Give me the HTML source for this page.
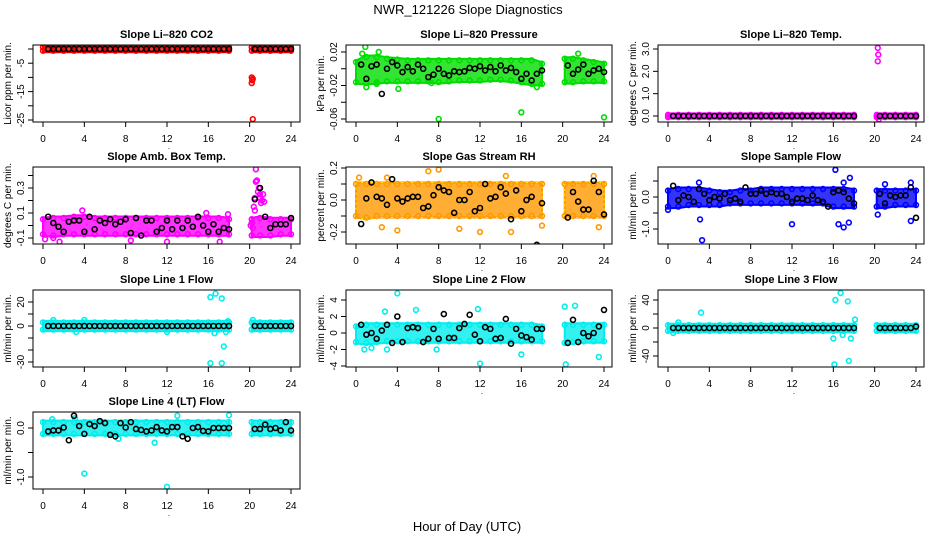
<!DOCTYPE html>
<html><head><meta charset="utf-8"><title>NWR_121226 Slope Diagnostics</title>
<style>
html,body{margin:0;padding:0;background:#fff;}
svg{display:block;font-family:"Liberation Sans",sans-serif;}
</style></head>
<body>
<svg id="chart" width="936" height="540" viewBox="0 0 936 540" xmlns="http://www.w3.org/2000/svg">
<text x="468" y="14" text-anchor="middle" font-size="13">NWR_121226  Slope Diagnostics</text>
<text x="467" y="531" text-anchor="middle" font-size="13">Hour of Day (UTC)</text>
</svg>
<script>
// ---- shared x grids (hours) ----
const bandHours = [0,1,2,3,4,5,6,7,8,9,10,11,12,13,14,15,16,17,18, null, 20.2,21,22,23,24];
const meanHours = [0.5,1,1.5,2,2.5,3,3.5,4,4.5,5,5.5,6,6.5,7,7.5,8,8.5,9,9.5,10,10.5,11,11.5,12,12.5,13,13.5,14,14.5,15,15.5,16,16.5,17,17.5,18,20.5,21,21.5,22,22.5,23,23.5,24];
const xTicks = [0,4,8,12,16,20,24];

// ---- panel 1: CO2 ----
const co2Lo = [-0.6,-0.6,-0.6,-0.6,-0.6,-0.6,-0.6,-0.6,-0.6,-0.6,-0.6,-0.6,-0.6,-0.6,-0.6,-0.6,-0.6,-0.6,-0.6,null,-0.6,-0.6,-0.6,-0.6,-0.6];
const co2Hi = [0.6,0.6,0.6,0.6,0.6,0.6,0.6,0.6,0.6,0.6,0.6,0.6,0.6,0.6,0.6,0.6,0.6,0.6,0.6,null,0.6,0.6,0.6,0.6,0.6];
const co2Mean = [0,0,0,0,0,0,0,0,0,0,0,0,0,0,0,0,0,0,0,0,0,0,0,0,0,0,0,0,0,0,0,0,0,0,0,0,0,0,0,0,0,0,0,0];
const co2OutX = [20.2,20.25,20.2,20.3,20.3];
const co2OutY = [-10,-11,-12,-24.7,-10.5];
const co2Ticks = [0,-5,-10,-15,-20,-25];
const co2Labels = ["","-5","","-15","","-25"];

// ---- panel 2: Pressure ----
const presLo = [-0.016,-0.017,-0.016,-0.015,-0.015,-0.015,-0.015,-0.015,-0.016,-0.015,-0.014,-0.014,-0.014,-0.013,-0.013,-0.014,-0.016,-0.018,-0.018,null,-0.016,-0.016,-0.015,-0.015,-0.015];
const presHi = [0.008,0.014,0.014,0.012,0.011,0.010,0.010,0.010,0.010,0.010,0.010,0.010,0.010,0.010,0.010,0.010,0.010,0.010,0.006,null,0.012,0.012,0.010,0.008,0.006];
const presMean = [0.005,-0.012,0.003,0.005,-0.03,0,0.008,0.004,-0.004,0.002,-0.003,0.005,0,-0.01,-0.007,0.0,-0.006,-0.008,-0.003,-0.004,-0.003,0.001,0.0,0.003,-0.002,0.002,-0.003,0.004,-0.002,0.001,-0.004,-0.012,-0.006,-0.014,-0.006,-0.002,0.004,-0.006,-0.001,0.005,-0.006,-0.002,0.0,-0.004];
const presOutX = [0.9,1.0,2.2,4.1,8,16,24,0.6,17.5,21.5,2.0,7.3];
const presOutY = [0.026,-0.022,0.02,-0.024,-0.06,-0.052,-0.058,0.018,-0.022,0.018,-0.018,-0.017];
const presTicks = [0.02,0,-0.02,-0.04,-0.06];
const presLabels = ["0.02","","-0.02","","-0.06"];

// ---- panel 3: Li-820 Temp ----
const tempLo = [-0.05,-0.05,-0.05,-0.05,-0.05,-0.05,-0.05,-0.05,-0.05,-0.05,-0.05,-0.05,-0.05,-0.05,-0.05,-0.05,-0.05,-0.05,-0.05,null,-0.05,-0.05,-0.05,-0.05,-0.05];
const tempHi = [0.05,0.05,0.05,0.05,0.05,0.05,0.05,0.05,0.05,0.05,0.05,0.05,0.05,0.05,0.05,0.05,0.05,0.05,0.05,null,0.05,0.05,0.05,0.05,0.05];
const tempMean = [0,0,0,0,0,0,0,0,0,0,0,0,0,0,0,0,0,0,0,0,0,0,0,0,0,0,0,0,0,0,0,0,0,0,0,0,0,0,0,0,0,0,0,0];
const tempOutX = [20.3,20.35,20.3,20.4,20.3];
const tempOutY = [3.05,2.75,2.45,-0.15,-0.05];
const tempTicks = [3,2,1,0];
const tempLabels = ["3.0","2.0","1.0","0.0"];

// ---- panel 4: Amb Box Temp ----
const ambLo = [-0.07,-0.08,-0.07,-0.07,-0.07,-0.07,-0.07,-0.07,-0.07,-0.07,-0.07,-0.07,-0.07,-0.07,-0.07,-0.07,-0.07,-0.07,-0.07,null,-0.08,-0.08,-0.08,-0.07,-0.07];
const ambHi = [0.05,0.06,0.06,0.07,0.07,0.06,0.06,0.06,0.06,0.06,0.06,0.06,0.06,0.06,0.06,0.06,0.06,0.06,0.05,null,0.05,0.06,0.05,0.05,0.05];
const ambMean = [0.07,0.02,-0.01,-0.05,0.03,0.04,0.04,-0.05,0.07,-0.03,0.04,0.02,0.05,0.01,0.03,0.05,-0.06,0.06,-0.08,0.04,0.04,-0.05,-0.02,0.04,-0.03,0.04,-0.02,0.04,-0.01,0.07,0.0,-0.05,0.01,-0.05,-0.02,-0.03,0.21,0.3,0.07,-0.02,0.01,0.01,0.01,0.06];
const ambOutX = [20.1,20.2,20.4,20.5,20.6,20.7,20.6,20.9,21.0,21.2,21.3,20.5,21.1,21.4,20.3,1.6,12,17.1,3.8,0.2,1.0,8.5,15.8,17.9,20.8,21.0];
const ambOutY = [0.0,0.02,0.15,0.22,0.35,0.36,0.45,0.3,0.25,0.2,0.25,0.12,0.18,0.19,-0.02,-0.13,-0.13,-0.13,0.12,-0.11,-0.1,-0.12,0.1,0.09,0.27,0.22];
const ambTicks = [0.4,0.3,0.2,0.1,0,-0.1];
const ambLabels = ["","0.3","","0.1","","-0.1"];

// ---- panel 5: Gas Stream RH ----
const rhLo = [-0.1,-0.11,-0.1,-0.1,-0.1,-0.1,-0.1,-0.1,-0.1,-0.1,-0.1,-0.1,-0.1,-0.1,-0.1,-0.1,-0.1,-0.1,-0.1,null,-0.1,-0.1,-0.1,-0.1,-0.1];
const rhHi = [0.1,0.1,0.1,0.1,0.1,0.1,0.1,0.1,0.1,0.1,0.1,0.1,0.1,0.1,0.1,0.1,0.1,0.1,0.1,null,0.1,0.1,0.1,0.1,0.1];
const rhMean = [-0.15,0.01,0.11,0.02,0.01,-0.03,0.13,0.01,-0.01,0.01,0.02,0.02,-0.05,-0.04,0.03,0.08,0.06,0.05,-0.08,0.0,0.0,0.05,-0.07,-0.05,0.1,0.01,0.02,0.08,0.04,-0.12,0.06,-0.07,0.0,0.02,-0.28,-0.02,-0.11,0.05,-0.01,-0.06,-0.06,0.12,0.05,-0.09];
const rhOutX = [0.3,3,7,8,14.5,23,4,12,15,2.5,23.5,10,18];
const rhOutY = [0.14,0.14,0.18,0.19,0.15,0.15,-0.19,-0.2,-0.2,-0.17,-0.17,-0.18,-0.16];
const rhTicks = [0.2,0.1,0,-0.1,-0.2];
const rhLabels = ["0.2","","0.0","","-0.2"];

// ---- panel 6: Sample Flow ----
const sfLo = [-0.3,-0.3,-0.25,-0.25,-0.25,-0.25,-0.2,-0.2,-0.2,-0.2,-0.2,-0.2,-0.2,-0.2,-0.2,-0.2,-0.3,-0.3,-0.3,null,-0.3,-0.3,-0.25,-0.25,-0.25];
const sfHi = [0.2,0.25,0.25,0.25,0.2,0.15,0.15,0.2,0.2,0.25,0.25,0.25,0.25,0.25,0.25,0.25,0.25,0.25,0.2,null,0.2,0.2,0.2,0.2,0.2];
const sfMean = [0.35,-0.1,0.05,0.0,-0.15,0.25,0.1,-0.1,0.0,-0.05,0.1,-0.1,-0.05,-0.15,0.3,0.1,0.1,0.2,0.1,0.15,0.1,0.1,0.0,-0.15,-0.05,-0.05,-0.1,0.05,-0.1,-0.15,-0.3,0.15,0.2,0.15,-0.05,-0.2,0.1,-0.2,0.05,0.0,0.05,0.05,0.3,-0.65];
const sfOutX = [3.1,3.3,12,16.2,16.5,17,17.5,17.6,17,23.5,23.5,0,21,3,20.3];
const sfOutY = [-0.7,-1.35,-0.85,0.85,-0.85,-0.95,-0.8,0.6,0.45,-0.75,0.45,-0.4,0.4,0.45,-0.55];
const sfTicks = [0.5,0,-0.5,-1];
const sfLabels = ["","0.0","","-1.0"];

// ---- panel 7: Line 1 Flow ----
const l1Lo = [-3,-3,-3,-3,-3,-3,-3,-3,-3,-3,-3,-3,-3,-3,-3,-3,-3,-3,-3,null,-3,-3,-3,-3,-3];
const l1Hi = [3,3,3,3,3,3,3,3,3,3,3,3,3,3,3,3,3,3,3,null,3,3,3,3,3];
const l1Mean = [0,0,0,0,0,0,0,0,0,0,0,0,0,0,0,0,0,0,0,0,0,0,0,0,0,0,0,0,0,0,0,0,0,0,0,0,0,0,0,0,0,0,0,0];
const l1OutX = [16.2,16.7,17.3,16.2,17.3,17.5,17.7,16.6,1,4,3.2,20.3,12,17.9];
const l1OutY = [24,27,23,-31,-31,-17,-5,-6,5,5,-5,5,-5,4];
const l1Ticks = [20,10,0,-10,-20,-30];
const l1Labels = ["20","","0","","","-30"];

// ---- panel 8: Line 2 Flow ----
const l2Lo = [-1.1,-1.2,-1.1,-1.0,-1.0,-1.0,-1.0,-1.0,-1.0,-1.0,-1.0,-1.0,-1.0,-1.0,-1.0,-1.0,-1.0,-1.0,-1.0,null,-1.2,-1.1,-1.0,-1.0,-1.0];
const l2Hi = [0.8,1.0,1.0,1.0,1.0,1.0,1.0,1.0,1.0,1.0,1.0,1.0,1.0,1.0,1.0,1.0,1.0,1.0,0.8,null,1.0,1.0,1.0,1.0,1.0];
const l2Mean = [1.0,-0.2,0.0,-0.7,0.3,1.0,-1.2,2.0,-1.1,0.6,0.7,0.6,-1.1,-0.7,0.5,-0.7,2.3,-0.6,-0.6,0.6,1.1,2.2,-0.2,-1.0,0.7,0.5,-0.7,-0.6,1.7,-1.3,0.5,-0.3,-0.5,-0.8,0.5,0.5,-1.2,1.6,-1.1,0.0,-0.4,0.0,0.8,2.8];
const l2OutX = [4,12,20.3,16,23.5,2.8,5.8,11.8,20.2,21.2,3,7.8,0.8,1.5];
const l2OutY = [4.8,-3.7,-3.8,-2.6,-2.9,2.6,2.8,2.9,3.2,3.3,-2,-2,-2,-1.8];
const l2Ticks = [4,2,0,-2,-4];
const l2Labels = ["4","2","0","-2","-4"];

// ---- panel 9: Line 3 Flow ----
const l3Lo = [-4,-4,-4,-4,-4,-4,-4,-4,-4,-4,-4,-4,-4,-4,-4,-4,-4,-4,-4,null,-4,-4,-4,-4,-4];
const l3Hi = [4,4,4,4,4,4,4,4,4,4,4,4,4,4,4,4,4,4,4,null,4,4,4,4,4];
const l3Mean = [0,0,0,0,0,0,0,0,0,0,0,0,0,0,0,0,0,0,0,0,0,0,0,0,0,0,0,0,0,0,0,0,0,0,0,0,0,0,0,0,0,0,0,2];
const l3OutX = [16.2,16.7,17.4,16.1,17.5,17.7,16.9,16,3.2,18.1,1,0.5];
const l3OutY = [40,50,38,-52,-47,-15,-10,-15,22,12,8,-7];
const l3Ticks = [40,20,0,-20,-40];
const l3Labels = ["40","","0","","-40"];

// ---- panel 10: Line 4 (LT) Flow ----
const l4Lo = [-0.12,-0.12,-0.12,-0.12,-0.12,-0.12,-0.12,-0.12,-0.12,-0.12,-0.12,-0.12,-0.12,-0.12,-0.12,-0.12,-0.12,-0.12,-0.12,null,-0.12,-0.12,-0.12,-0.12,-0.12];
const l4Hi = [0.12,0.12,0.12,0.12,0.12,0.12,0.12,0.12,0.12,0.12,0.12,0.12,0.12,0.12,0.12,0.12,0.12,0.12,0.12,null,0.12,0.12,0.12,0.12,0.12];
const l4Mean = [-0.07,-0.05,-0.05,0.01,-0.25,0.25,0.04,-0.12,0.08,0.04,0.14,0.1,-0.14,-0.17,0.1,0.01,0.12,-0.02,-0.04,-0.07,-0.05,0.02,-0.05,-0.07,0.02,0.02,-0.17,-0.22,0.0,0.02,-0.06,-0.07,0.0,0.0,0.0,0.0,-0.02,-0.02,0.07,-0.02,0.0,-0.05,0.12,-0.05];
const l4OutX = [4,12,0.9,3.1,13,18,10.8,7.3];
const l4OutY = [-0.93,-1.2,0.18,0.2,0.25,0.26,-0.3,-0.22];
const l4Ticks = [0,-0.5,-1];
const l4Labels = ["0.0","","-1.0"];

// ---- layout (not data) ----
const colLeft = [33,346,658], colW = [267,266,266];
const rowTop = [45,167,290,412], boxH = 77;
const panels = [
 {name:"co2",title:"Slope Li\u2013820 CO2",ylab:"Licor ppm per min.",r:0,c:0,v1:0,p1:49,v2:-25,p2:120,lo:co2Lo,hi:co2Hi,mean:co2Mean,ox:co2OutX,oy:co2OutY,ticks:co2Ticks,labels:co2Labels,color:"#ff0000"},
 {name:"pressure",title:"Slope Li\u2013820 Pressure",ylab:"kPa per min.",r:0,c:1,v1:0.02,p1:52,v2:-0.06,p2:119,lo:presLo,hi:presHi,mean:presMean,ox:presOutX,oy:presOutY,ticks:presTicks,labels:presLabels,color:"#00dd00"},
 {name:"li820-temp",title:"Slope Li\u2013820 Temp.",ylab:"degrees C per min.",r:0,c:2,v1:3,p1:49,v2:0,p2:116,lo:tempLo,hi:tempHi,mean:tempMean,ox:tempOutX,oy:tempOutY,ticks:tempTicks,labels:tempLabels,color:"#ff00ff"},
 {name:"amb-box-temp",title:"Slope Amb. Box Temp.",ylab:"degrees C per min.",r:1,c:0,v1:0.3,p1:188,v2:-0.1,p2:238,lo:ambLo,hi:ambHi,mean:ambMean,ox:ambOutX,oy:ambOutY,ticks:ambTicks,labels:ambLabels,color:"#ff00ff"},
 {name:"gas-stream-rh",title:"Slope Gas Stream RH",ylab:"percent per min.",r:1,c:1,v1:0.2,p1:168,v2:-0.2,p2:232,lo:rhLo,hi:rhHi,mean:rhMean,ox:rhOutX,oy:rhOutY,ticks:rhTicks,labels:rhLabels,color:"#ff9900",color2:"#ffee00"},
 {name:"sample-flow",title:"Slope Sample Flow",ylab:"ml/min per min.",r:1,c:2,v1:0,p1:197,v2:-1,p2:229,lo:sfLo,hi:sfHi,mean:sfMean,ox:sfOutX,oy:sfOutY,ticks:sfTicks,labels:sfLabels,color:"#0000ff"},
 {name:"line1-flow",title:"Slope Line 1 Flow",ylab:"ml/min per min.",r:2,c:0,v1:20,p1:302,v2:-30,p2:362,lo:l1Lo,hi:l1Hi,mean:l1Mean,ox:l1OutX,oy:l1OutY,ticks:l1Ticks,labels:l1Labels,color:"#00eeee"},
 {name:"line2-flow",title:"Slope Line 2 Flow",ylab:"ml/min per min.",r:2,c:1,v1:4,p1:300,v2:-4,p2:366,lo:l2Lo,hi:l2Hi,mean:l2Mean,ox:l2OutX,oy:l2OutY,ticks:l2Ticks,labels:l2Labels,color:"#00eeee"},
 {name:"line3-flow",title:"Slope Line 3 Flow",ylab:"ml/min per min.",r:2,c:2,v1:40,p1:300,v2:-40,p2:356,lo:l3Lo,hi:l3Hi,mean:l3Mean,ox:l3OutX,oy:l3OutY,ticks:l3Ticks,labels:l3Labels,color:"#00eeee"},
 {name:"line4-flow",title:"Slope Line 4 (LT) Flow",ylab:"ml/min per min.",r:3,c:0,v1:0,p1:428,v2:-1,p2:477,lo:l4Lo,hi:l4Hi,mean:l4Mean,ox:l4OutX,oy:l4OutY,ticks:l4Ticks,labels:l4Labels,color:"#00eeee"}
];

const NS = "http://www.w3.org/2000/svg";
const svg = document.getElementById("chart");
function mk(tag, attrs, parent){ const e=document.createElementNS(NS,tag); for(const k in attrs) e.setAttribute(k,attrs[k]); (parent||svg).appendChild(e); return e; }

const defs = mk("defs",{});
panels.forEach((p,i)=>{
  const L=colLeft[p.c], W=colW[p.c], T=rowTop[p.r], B=T+boxH, R=L+W;
  const xs = h => L+10 + h*(248/24);
  const ys = v => p.p1 + (v-p.v1)*(p.p2-p.p1)/(p.v2-p.v1);
  const g = mk("g",{});
  
  
  const cp = mk("clipPath",{id:"clip"+i},defs);
  mk("rect",{x:L,y:T,width:W,height:boxH},cp);

  const t = mk("text",{x:(L+R)/2,y:T-7,"text-anchor":"middle","font-size":"11","font-weight":"bold"},g);
  t.textContent = p.title;
  
  

  const plot = mk("g",{"clip-path":"url(#clip"+i+")"},g);
  
  

  let seg=[];
  const segs=[];
  for(let k=0;k<bandHours.length;k++){
    if(bandHours[k]===null||p.lo[k]===null){ if(seg.length) segs.push(seg); seg=[]; continue; }
    seg.push(k);
  }
  if(seg.length) segs.push(seg);
  segs.forEach(sg=>{
    let d="";
    sg.forEach((k,j)=>{ d+=(j?"L":"M")+xs(bandHours[k])+","+(ys(p.hi[k])-1.5); });
    for(let j=sg.length-1;j>=0;j--){ const k=sg[j]; d+="L"+xs(bandHours[k])+","+(ys(p.lo[k])+1.5); }
    d+="Z";
    const band = mk("path",{d:d,fill:p.color,"fill-opacity":"0.8",stroke:p.color,"stroke-width":"2","stroke-linejoin":"round"},plot);
    
    
    if(p.color2){
      const band2 = mk("path",{d:d,fill:"none",stroke:p.color2,"stroke-width":"1","stroke-dasharray":"2 3"},plot);
      
      
    }
    // ragged edge markers at cloud extremes
    sg.forEach(k=>{
      [p.lo[k],p.hi[k]].forEach(v=>{
        const c = mk("circle",{cx:xs(bandHours[k]),cy:ys(v),r:2.4,fill:"none",stroke:p.color,"stroke-width":"1.6"},plot);
        
        
      });
    });
  });
  p.ox.forEach((x,k)=>{
    const c = mk("circle",{cx:xs(x),cy:ys(p.oy[k]),r:2.4,fill:"none",stroke:p.color,"stroke-width":"1.6"},plot);
    
    
  });
  meanHours.forEach((x,k)=>{
    const c = mk("circle",{cx:xs(x),cy:ys(p.mean[k]),r:2.5,fill:"none",stroke:"#000","stroke-width":"1.6"},plot);
    
    
  });

  const box = mk("rect",{x:L,y:T,width:W,height:boxH,fill:"none",stroke:"#000","stroke-width":"1"},g);
  
  

  const xa = mk("g",{},g);
  
  
  mk("line",{x1:xs(xTicks[0]),x2:xs(xTicks[xTicks.length-1]),y1:B,y2:B,stroke:"#000"},xa);
  xTicks.forEach(h=>{
    mk("line",{x1:xs(h),x2:xs(h),y1:B,y2:B+5,stroke:"#000"},xa);
    const tl = mk("text",{x:xs(h),y:B+20,"text-anchor":"middle","font-size":"10"},xa);
    tl.textContent = String(h);
    
    
  });
  const dot = mk("text",{x:xs(12)+2,y:B+27,"text-anchor":"middle","font-size":"8"},xa);
  dot.textContent=".";

  const ya = mk("g",{},g);
  
  
  mk("line",{x1:L,x2:L,y1:ys(p.ticks[0]),y2:ys(p.ticks[p.ticks.length-1]),stroke:"#000"},ya);
  p.ticks.forEach((v,k)=>{
    const y=ys(v);
    mk("line",{x1:L-5,x2:L,y1:y,y2:y,stroke:"#000"},ya);
    if(p.labels[k]){
      const tl = mk("text",{x:0,y:0,"text-anchor":"middle","font-size":"10",transform:"translate("+(L-9)+","+y+") rotate(-90)"},ya);
      tl.textContent = p.labels[k];
      
      
    }
  });
  const yt = mk("text",{x:0,y:0,"text-anchor":"middle","font-size":"10",transform:"translate("+(L-22)+","+(T+boxH/2)+") rotate(-90)"},g);
  yt.textContent = p.ylab;
  
  
});
</script>
</body></html>
